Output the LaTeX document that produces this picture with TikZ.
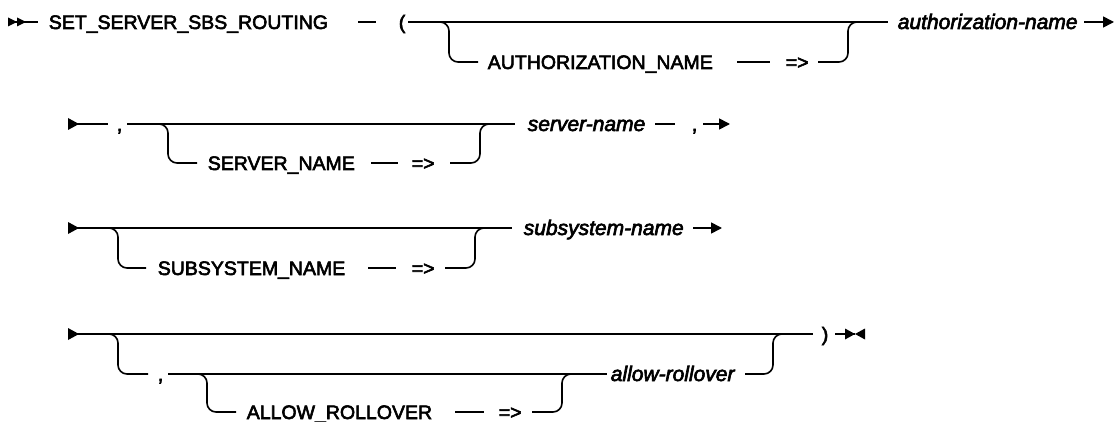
\documentclass[tikz,border=0pt]{standalone}
\usepackage{fontspec}
\setmainfont{Liberation Sans}
\newfontfamily\railfont{Liberation Sans}[FakeBold=3]
\usetikzlibrary{arrows.meta}
\begin{document}
\begin{tikzpicture}[x=1pt,y=-1pt,line width=1.6pt,
  kw/.style={inner sep=0pt,anchor=base west,font=\railfont\fontsize{19.5}{20}\selectfont},
  var/.style={inner sep=0pt,anchor=base west,font=\railfont\fontsize{21}{22}\selectfont\itshape},
  rail/.style={draw,rounded corners=9pt},
  tipend/.style={-{Triangle[length=11pt,width=11pt]}},
  solidtri/.style={fill=black,draw=none}]
\useasboundingbox (0,0) rectangle (1118,422);

% ---------------- Row 1 ----------------
\coordinate (r1s) at (9,22);
\coordinate (r1a) at (38,22);
\fill[solidtri] (8,17.5) -- (17,22) -- (8,26.5) -- cycle;
\fill[solidtri] (17,17.5) -- (26,22) -- (17,26.5) -- cycle;
\draw (r1s) -- (r1a);
\node[kw] (setname) at (48,29) {SET\_SERVER\_SBS\_ROUTING};
\coordinate (d1a) at (358,22);
\coordinate (d1b) at (376,22);
\draw (d1a) -- (d1b);
\node[kw] (lpar) at (398,29) {(};
\coordinate (m1a) at (408,22);
\coordinate (m1b) at (888,22);
\draw (m1a) -- (m1b);
\coordinate (b1a) at (438,22);
\coordinate (b1z) at (478,62);
\draw[rail] (b1a) -- (449,22) -- (449,62) -- (b1z);
\node[kw] (authkw) at (487,69) {AUTHORIZATION\_NAME};
\coordinate (d2a) at (737,62);
\coordinate (d2b) at (770,62);
\draw (d2a) -- (d2b);
\node[kw] (arr1) at (785,69) {=>};
\coordinate (b1b) at (818,62);
\coordinate (b1c) at (860,22);
\draw[rail] (b1b) -- (848,62) -- (848,22) -- (b1c);
\node[var] (authvar) at (897,29) {authorization-name};
\coordinate (e1a) at (1084,22);
\coordinate (e1b) at (1114,22);
\draw[tipend] (e1a) -- (e1b);

% ---------------- Row 2 ----------------
\coordinate (r2s) at (68,124);
\coordinate (r2a) at (108,124);
\fill[solidtri] (68,118) -- (79,124) -- (68,130) -- cycle;
\draw (r2s) -- (r2a);
\node[kw] (comma2) at (116,131) {,};
\coordinate (m2a) at (127,124);
\coordinate (m2b) at (515,124);
\draw (m2a) -- (m2b);
\coordinate (b2a) at (157,124);
\coordinate (b2z) at (197,163);
\draw[rail] (b2a) -- (168,124) -- (168,163) -- (b2z);
\node[kw] (serverkw) at (207,170) {SERVER\_NAME};
\coordinate (d3a) at (371,163);
\coordinate (d3b) at (398,163);
\draw (d3a) -- (d3b);
\node[kw] (arr2) at (411,170) {=>};
\coordinate (b2b) at (450,163);
\coordinate (b2c) at (492,124);
\draw[rail] (b2b) -- (480,163) -- (480,124) -- (b2c);
\node[var] (servervar) at (527,131) {server-name};
\coordinate (d4a) at (655,124);
\coordinate (d4b) at (675,124);
\draw (d4a) -- (d4b);
\node[kw] (comma2b) at (691,131) {,};
\coordinate (e2a) at (703,124);
\coordinate (e2b) at (730,124);
\draw[tipend] (e2a) -- (e2b);

% ---------------- Row 3 ----------------
\coordinate (r3s) at (68,228);
\coordinate (m3b) at (512,228);
\fill[solidtri] (68,222) -- (79,228) -- (68,234) -- cycle;
\draw (r3s) -- (m3b);
\coordinate (b3a) at (108,228);
\coordinate (b3z) at (146,268);
\draw[rail] (b3a) -- (118,228) -- (118,268) -- (b3z);
\node[kw] (subkw) at (157,275) {SUBSYSTEM\_NAME};
\coordinate (d5a) at (368,268);
\coordinate (d5b) at (396,268);
\draw (d5a) -- (d5b);
\node[kw] (arr3) at (411,275) {=>};
\coordinate (b3b) at (445,268);
\coordinate (b3c) at (486,228);
\draw[rail] (b3b) -- (475,268) -- (475,228) -- (b3c);
\node[var] (subvar) at (523,235) {subsystem-name};
\coordinate (e3a) at (693,228);
\coordinate (e3b) at (722,228);
\draw[tipend] (e3a) -- (e3b);

% ---------------- Row 4 ----------------
\coordinate (r4s) at (68,334);
\coordinate (m4b) at (813,334);
\fill[solidtri] (68,328) -- (79,334) -- (68,340) -- cycle;
\draw (r4s) -- (m4b);
\coordinate (b4a) at (108,334);
\coordinate (b4z) at (148,374);
\draw[rail] (b4a) -- (118,334) -- (118,374) -- (b4z);
\node[kw] (comma4) at (157,381) {,};
\coordinate (m5a) at (168,374);
\coordinate (m5b) at (607,374);
\draw (m5a) -- (m5b);
\coordinate (b5a) at (197,374);
\coordinate (b5z) at (236,412);
\draw[rail] (b5a) -- (207,374) -- (207,412) -- (b5z);
\node[kw] (allowkw) at (246,419) {ALLOW\_ROLLOVER};
\coordinate (d6a) at (455,412);
\coordinate (d6b) at (484,412);
\draw (d6a) -- (d6b);
\node[kw] (arr4) at (498,419) {=>};
\coordinate (b5b) at (532,412);
\coordinate (b5c) at (572,374);
\draw[rail] (b5b) -- (562,412) -- (562,374) -- (b5c);
\node[var] (allowvar) at (610,381) {allow-rollover};
\coordinate (b4b) at (745,374);
\coordinate (b4c) at (785,334);
\draw[rail] (b4b) -- (773,374) -- (773,334) -- (b4c);
\node[kw] (rpar) at (821,341) {)};
\coordinate (e4a) at (835,334);
\coordinate (e4b) at (855,334);
\draw (e4a) -- (e4b);
\fill[solidtri] (845,328.5) -- (855,334) -- (845,339.5) -- cycle;
\fill[solidtri] (865,328.5) -- (855,334) -- (865,339.5) -- cycle;
\end{tikzpicture}
\end{document}
